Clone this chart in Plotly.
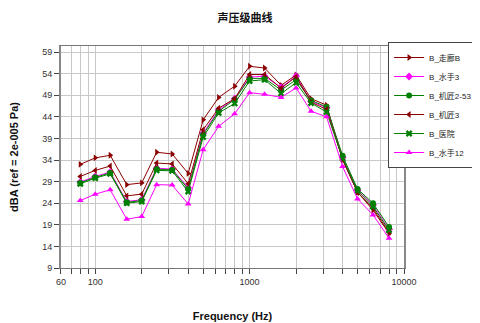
import plotly.graph_objects as go

freqs = [80, 100, 125, 160, 200, 250, 315, 400, 500, 630, 800, 1000, 1250, 1600, 2000, 2500, 3150, 4000, 5000, 6300, 8000]

s_zoulang_b = [33.0, 34.5, 35.1, 28.3, 28.7, 35.8, 35.4, 30.9, 43.3, 48.5, 51.1, 55.7, 55.3, 51.3, 53.7, 48.2, 46.7, 34.0, 26.6, 22.4, 17.0]
s_shuishou3 = [28.9, 30.2, 31.2, 24.4, 24.8, 32.1, 31.9, 27.6, 40.2, 45.6, 48.2, 53.2, 53.4, 50.8, 53.4, 47.6, 46.1, 34.6, 27.0, 23.6, 18.0]
s_jijiang253 = [28.7, 30.0, 31.0, 24.2, 24.6, 31.9, 31.7, 27.3, 39.9, 45.3, 48.0, 52.9, 52.9, 50.2, 52.6, 47.8, 46.3, 35.0, 27.3, 24.0, 18.5]
s_jijiang3 = [30.2, 31.6, 32.6, 25.7, 26.1, 33.3, 33.1, 28.5, 41.0, 46.0, 48.2, 53.8, 53.8, 50.6, 53.3, 47.4, 45.7, 34.2, 26.5, 22.8, 17.3]
s_yiyuan = [28.5, 29.8, 30.8, 24.0, 24.4, 31.6, 31.5, 26.7, 39.3, 44.9, 47.1, 52.3, 52.6, 49.4, 51.9, 47.2, 45.1, 34.4, 26.9, 23.2, 17.8]
s_shuishou12 = [24.6, 26.1, 27.1, 20.3, 20.9, 28.3, 28.2, 23.8, 36.4, 41.8, 44.7, 49.6, 49.2, 48.5, 50.7, 45.3, 44.0, 32.5, 25.0, 21.3, 15.9]

names = ["B_走廊B", "B_水手3", "B_机匠2-53", "B_机匠3", "B_医院", "B_水手12"]
series = [s_zoulang_b, s_shuishou3, s_jijiang253, s_jijiang3, s_yiyuan, s_shuishou12]
colors = ["#8B0000", "#FF00FF", "#008000", "#8B0000", "#008000", "#FF00FF"]
symbols = ["triangle-right", "diamond", "circle", "triangle-left", "x", "triangle-up"]

x_tickvals = [60, 70, 80, 90, 100, 200, 300, 400, 500, 600, 700, 800, 900, 1000,
              2000, 3000, 4000, 5000, 6000, 7000, 8000, 9000, 10000]
x_ticktext = ["60", "", "", "", "100", "", "", "", "", "", "", "", "", "1000",
              "", "", "", "", "", "", "", "", "10000"]
y_tickvals = [9, 14, 19, 24, 29, 34, 39, 44, 49, 54, 59]

fig = go.Figure()
for name, vals, c, sym in zip(names, series, colors, symbols):
    fig.add_trace(go.Scatter(
        x=freqs, y=vals, name=name, mode="lines+markers",
        line=dict(color=c, width=1),
        marker=dict(symbol=sym, size=6, color=c),
    ))

# page body has an 8px margin, so the figure is drawn 8px in from the window corner
fig.update_layout(
    width=472, height=315,
    margin=dict(l=53, r=76, t=38, b=55, autoexpand=False),
    paper_bgcolor="white", plot_bgcolor="white",
    font=dict(family="Liberation Sans, Arial", size=9, color="#333"),
    title=dict(text="<b>声压级曲线</b>", x=0.502, xanchor="center", y=0.968, yanchor="middle",
               font=dict(family="Noto Sans CJK SC", size=11, color="#111")),
    legend=dict(x=1.216, y=1.018, xanchor="right", yanchor="top",
                bordercolor="#444", borderwidth=1, bgcolor="white",
                font=dict(family="Liberation Sans, Noto Sans CJK SC", size=8, color="#222"),
                tracegroupgap=0, itemwidth=30),
    showlegend=True,
)
fig.update_xaxes(
    type="log", range=[1.7782, 4.0],
    tickvals=x_tickvals, ticktext=x_ticktext,
    ticks="outside", ticklen=5, tickcolor="#444",
    showgrid=True, gridcolor="#c8c8c8", gridwidth=1,
    showline=True, linecolor="#777", linewidth=1, mirror=True,
    tickfont=dict(size=9, color="#333"),
    automargin=False,
    title=dict(text="<b>Frequency (Hz)</b>", font=dict(size=11, color="#111"), standoff=26),
)
fig.update_yaxes(
    range=[9, 60.4], tickvals=y_tickvals,
    ticks="outside", ticklen=5, tickcolor="#444",
    showgrid=True, gridcolor="#c8c8c8", gridwidth=1,
    showline=True, linecolor="#888", linewidth=2, mirror=True,
    zeroline=False, automargin=False,
    tickfont=dict(size=9, color="#333"),
    title=dict(text="<b>dBA (ref = 2e-005 Pa)</b>", font=dict(size=11, color="#111"), standoff=30),
)

fig.write_html("out.html")
